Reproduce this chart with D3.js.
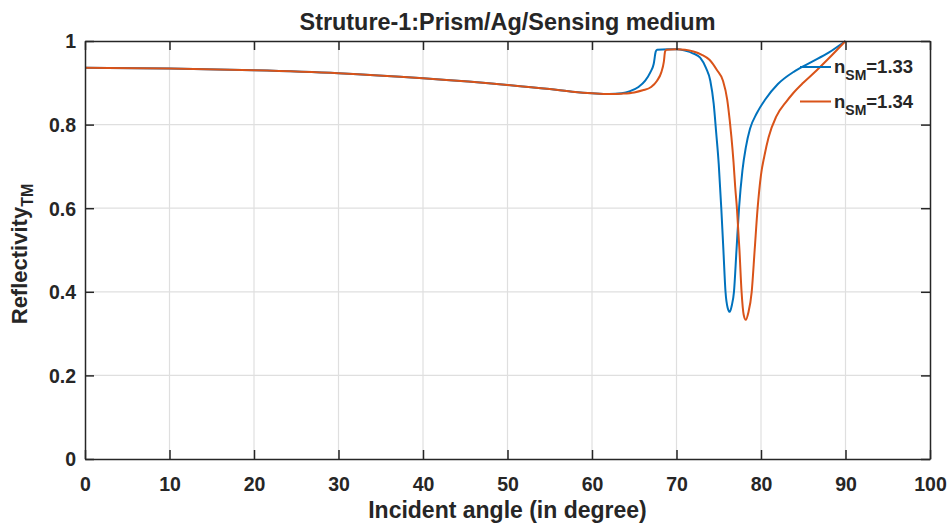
<!DOCTYPE html>
<html>
<head>
<meta charset="utf-8">
<script src="https://cdn.jsdelivr.net/npm/d3@7"></script>
<style>
  body { margin: 0; background: #fff; }
  text { font-family: "Liberation Sans", Arial, sans-serif; font-weight: bold; fill: #262626; }
</style>
</head>
<body>
<svg width="949" height="525"></svg>
<script>
// data
let xTicks = [0, 10, 20, 30, 40, 50, 60, 70, 80, 90, 100];
let yTicks = [0, 0.2, 0.4, 0.6, 0.8, 1];
let yTickLabels = ["0", "0.2", "0.4", "0.6", "0.8", "1"];

let angle133 = [0, 10, 20, 30, 40, 50, 55, 58, 60, 62, 63.5, 64.5, 65.5, 66.3, 66.9, 67.3, 67.55, 67.7, 69, 70, 71, 72, 72.8, 73.5, 74, 74.4, 74.7, 75.0, 75.3, 75.55, 75.8, 76.05, 76.3, 76.55, 76.8, 77.1, 77.4, 77.8, 78.2, 78.7, 79.5, 80.5, 82, 84, 86, 88, 90];
let refl133  = [0.936, 0.934, 0.930, 0.923, 0.911, 0.895, 0.885, 0.878, 0.875, 0.873, 0.875, 0.880, 0.890, 0.905, 0.925, 0.945, 0.975, 0.979, 0.980, 0.980, 0.977, 0.970, 0.960, 0.935, 0.905, 0.850, 0.780, 0.705, 0.600, 0.500, 0.400, 0.362, 0.352, 0.368, 0.400, 0.500, 0.600, 0.690, 0.745, 0.790, 0.827, 0.860, 0.897, 0.928, 0.950, 0.972, 1.0];

let angle134 = [0, 10, 20, 30, 40, 50, 55, 58, 60, 62, 63.5, 65, 66, 67, 67.7, 68.2, 68.5, 68.65, 68.8, 70, 71, 72, 73, 73.9, 74.8, 75.5, 76, 76.3, 76.5, 76.75, 76.95, 77.15, 77.45, 77.7, 77.95, 78.2, 78.5, 78.9, 79.25, 79.6, 80.0, 80.4, 80.9, 81.8, 83, 83.8, 85, 86.6, 88, 90];
let refl134  = [0.936, 0.934, 0.930, 0.923, 0.911, 0.895, 0.885, 0.878, 0.875, 0.873, 0.874, 0.877, 0.882, 0.890, 0.905, 0.925, 0.950, 0.975, 0.979, 0.980, 0.979, 0.975, 0.967, 0.955, 0.930, 0.905, 0.860, 0.810, 0.770, 0.710, 0.650, 0.600, 0.500, 0.400, 0.345, 0.333, 0.350, 0.400, 0.500, 0.600, 0.680, 0.725, 0.770, 0.819, 0.855, 0.875, 0.900, 0.930, 0.958, 1.0];

let seriesNames = ["1.33", "1.34"];
let colors = ["#0072BD", "#D95319"];

var svg = d3.select("svg"),
    margin = {left: 85, right: 19, top: 41, bottom: 66},
    width = +svg.attr("width") - margin.left - margin.right,
    height = +svg.attr("height") - margin.top - margin.bottom;

let x = d3.scaleLinear().domain([0, 100]).range([0, width]);
let y = d3.scaleLinear().domain([0, 1]).range([height, 0]);

let g = svg.append("g").attr("transform", "translate(" + margin.left + "," + margin.top + ")");

// grid
g.append("g").selectAll("line").data(xTicks.slice(1, -1)).enter().append("line")
    .attr("x1", d => x(d)).attr("x2", d => x(d))
    .attr("y1", 0).attr("y2", height)
    .attr("stroke", "#dfdfdf").attr("stroke-width", 1.2);
g.append("g").selectAll("line").data(yTicks.slice(1, -1)).enter().append("line")
    .attr("y1", d => y(d)).attr("y2", d => y(d))
    .attr("x1", 0).attr("x2", width)
    .attr("stroke", "#dfdfdf").attr("stroke-width", 1.2);

// curves
let line = d3.line()
    .x(d => x(d[0]))
    .y(d => y(d[1]))
    .curve(d3.curveMonotoneX);

let series = [d3.zip(angle133, refl133), d3.zip(angle134, refl134)];
g.selectAll(".curve").data(series).enter().append("path")
    .attr("class", "curve")
    .attr("fill", "none")
    .attr("stroke", (d, i) => colors[i])
    .attr("stroke-width", 2)
    .attr("d", line);

// axes (ticks inside, box on)
let axColor = "#262626";
let axBottom = g.append("g").attr("transform", "translate(0," + height + ")")
    .call(d3.axisBottom(x).tickValues(xTicks).tickSizeInner(-9).tickSizeOuter(0).tickPadding(18));
let axTop = g.append("g")
    .call(d3.axisTop(x).tickValues(xTicks).tickSizeInner(-9).tickSizeOuter(0).tickFormat(""));
let axLeft = g.append("g")
    .call(d3.axisLeft(y).tickValues(yTicks).tickSizeInner(-9).tickSizeOuter(0).tickPadding(9)
        .tickFormat((d, i) => yTickLabels[i]));
let axRight = g.append("g").attr("transform", "translate(" + width + ",0)")
    .call(d3.axisRight(y).tickValues(yTicks).tickSizeInner(-9).tickSizeOuter(0).tickFormat(""));

[axBottom, axTop, axLeft, axRight].forEach(a => {
    a.select(".domain").attr("stroke", axColor).attr("stroke-width", 1.5);
    a.selectAll(".tick line").attr("stroke", axColor).attr("stroke-width", 1.5);
    a.selectAll("text").attr("font-size", 19.5).attr("font-family", null).attr("fill", axColor);
});
axLeft.selectAll("text").attr("dy", "0.35em");

// title and labels
svg.append("text")
    .attr("x", margin.left + width / 2).attr("y", 30)
    .attr("text-anchor", "middle").attr("font-size", 23.4)
    .attr("fill", "#000")
    .text("Struture-1:Prism/Ag/Sensing medium");

svg.append("text")
    .attr("x", margin.left + width / 2).attr("y", 518)
    .attr("text-anchor", "middle").attr("font-size", 23)
    .text("Incident angle (in degree)");

let yl = svg.append("text")
    .attr("transform", "translate(27,254) rotate(-90)")
    .attr("text-anchor", "middle").attr("font-size", 22);
yl.append("tspan").text("Reflectivity");
yl.append("tspan").attr("font-size", 16).attr("dy", 6).text("TM");

// legend
let legend = svg.append("g").attr("transform", "translate(800,67)");
seriesNames.forEach((name, i) => {
    let row = legend.append("g").attr("transform", "translate(0," + (i * 34.5) + ")");
    row.append("line").attr("x1", 0).attr("x2", 31).attr("y1", 0).attr("y2", 0)
        .attr("stroke", colors[i]).attr("stroke-width", 2);
    let t = row.append("text").attr("x", 34).attr("y", 6).attr("font-size", 18.5);
    t.append("tspan").text("n");
    t.append("tspan").attr("font-size", 14).attr("dy", 7).text("SM");
    t.append("tspan").attr("dy", -7).text("=" + name);
});
</script>
</body>
</html>
